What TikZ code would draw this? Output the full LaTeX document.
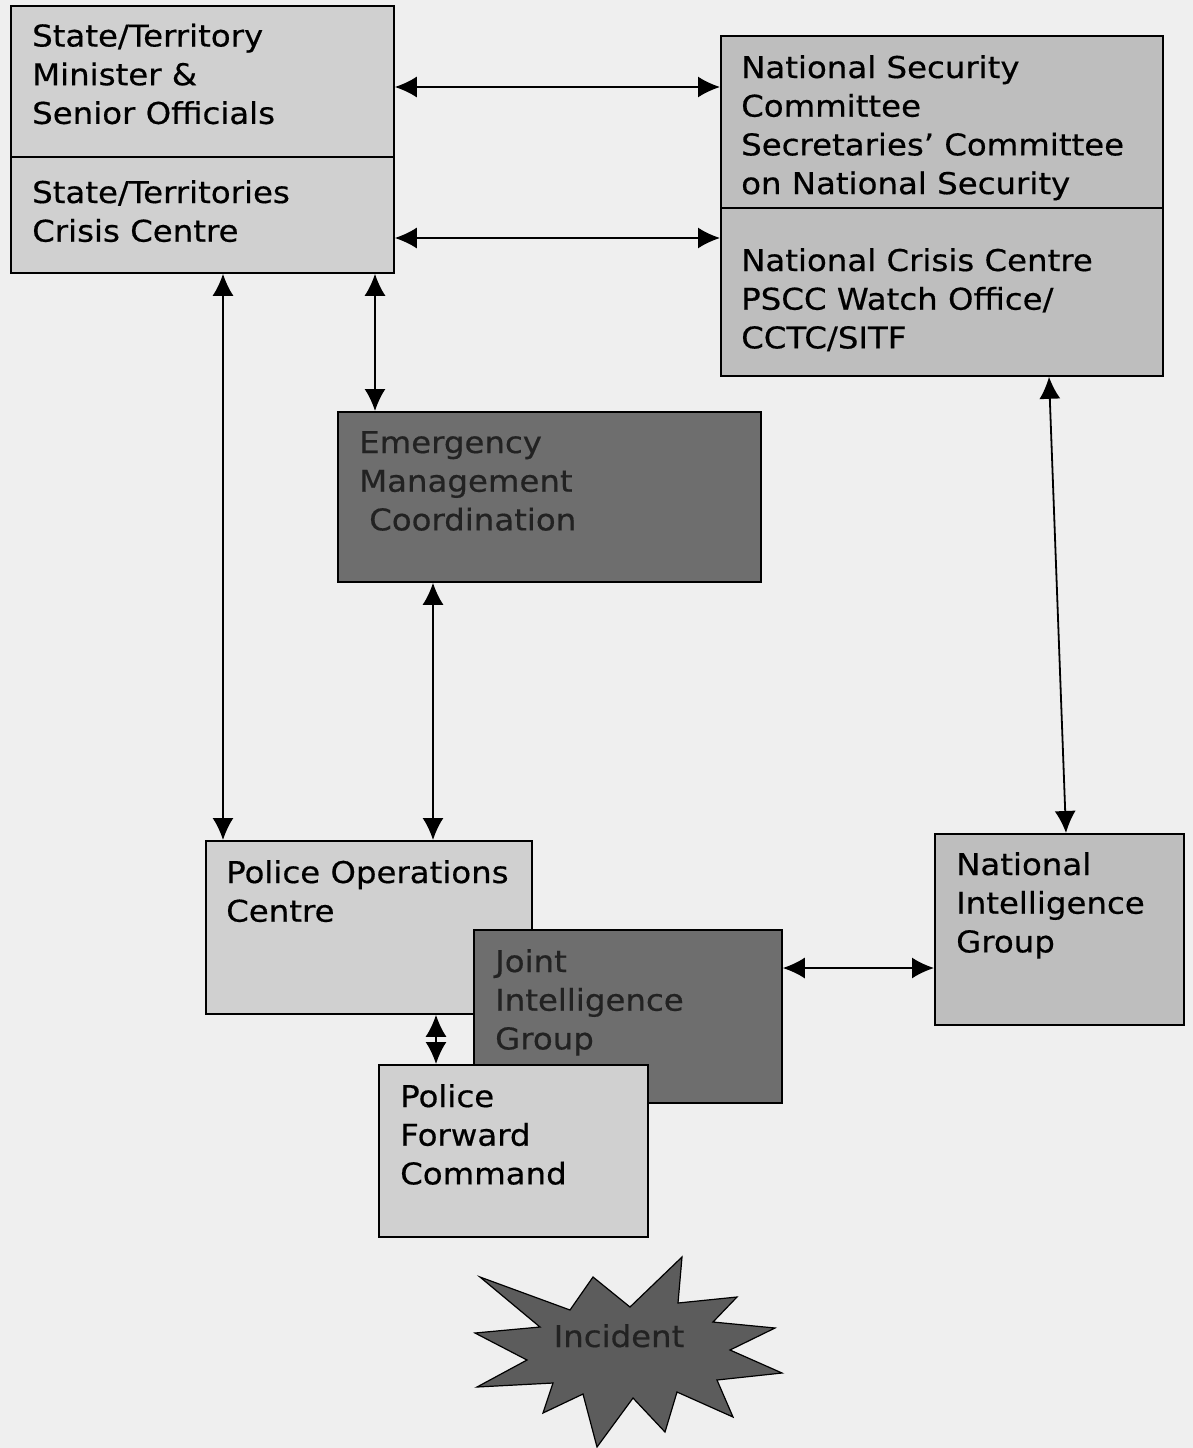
\documentclass[tikz,border=0pt]{standalone}
\usepackage{fontspec}
\setmainfont{DejaVu Sans}[FakeStretch=1.08,FakeBold=0.5]
\usetikzlibrary{arrows.meta,calc}
\definecolor{bgc}{HTML}{EFEFEF}
\definecolor{lightg}{HTML}{D0D0D0}
\definecolor{midg}{HTML}{BEBEBE}
\definecolor{darkg}{HTML}{6E6E6E}
\definecolor{starg}{HTML}{5C5C5C}
\definecolor{darktxt}{HTML}{222222}
\tikzset{
  box/.style={draw=black, line width=1.8pt, rectangle, inner sep=0pt, anchor=north west},
  lightbox/.style={box, fill=lightg},
  midbox/.style={box, fill=midg},
  darkbox/.style={box, fill=darkg},
  lbl/.style={anchor=base west, inner sep=0pt, font=\fontsize{30}{38.7}\selectfont},
  darklbl/.style={lbl, text=darktxt},
  arr/.style={{Latex[length=22pt,width=21pt]}-{Latex[length=22pt,width=21pt]}, line width=1.8pt}
}
\newcommand{\ltext}[1]{\parbox[t]{20cm}{\raggedright #1}}
\begin{document}
\begin{tikzpicture}[x=1pt,y=-1pt]
\fill[bgc] (0,0) rectangle (1193,1448);
\useasboundingbox (0,0) rectangle (1193,1448);

% boxes
\node[lightbox, minimum width=383pt, minimum height=151pt] (tl1) at (10,5) {};
\node[lightbox, minimum width=383pt, minimum height=116pt] (tl2) at (10,156) {};
\node[midbox, minimum width=442pt, minimum height=172pt] (ns1) at (720,35) {};
\node[midbox, minimum width=442pt, minimum height=168pt] (ns2) at (720,207) {};
\node[darkbox, minimum width=423pt, minimum height=170pt] (em) at (337,411) {};
\node[lightbox, minimum width=326pt, minimum height=173pt] (poc) at (205,840) {};
\node[darkbox, minimum width=308pt, minimum height=173pt] (jig) at (473,929) {};
\node[lightbox, minimum width=269pt, minimum height=172pt] (pfc) at (378,1064) {};
\node[midbox, minimum width=249pt, minimum height=191pt] (nig) at (934,833) {};

% texts
\node[lbl] (t1) at (32,46.5) {\ltext{State/Territory\\Minister \&\\Senior Officials}};
\node[lbl] (t2) at (32,203) {\ltext{State/Territories\\Crisis Centre}};
\node[lbl] (t3) at (741,78) {\ltext{National Security\\Committee\\Secretaries’ Committee\\on National Security}};
\node[lbl] (t4) at (741,271) {\ltext{National Crisis Centre\\PSCC Watch Office/\\CCTC/SITF}};
\node[darklbl] (t5) at (359,453) {\ltext{Emergency\\Management\\\hspace*{10pt}Coordination}};
\node[lbl] (t6) at (226,883) {\ltext{Police Operations\\Centre}};
\node[darklbl] (t7) at (495,972) {\ltext{Joint\\Intelligence\\Group}};
\node[lbl] (t8) at (400,1107) {\ltext{Police\\Forward\\Command}};
\node[lbl] (t9) at (956,875) {\ltext{National\\Intelligence\\Group}};

% starburst
\filldraw[fill=starg, draw=black, line width=1.2pt]
  (480,1277) -- (570,1310) -- (593,1277) -- (630,1307) -- (682,1257) -- (678,1303)
  -- (737,1297) -- (713,1322) -- (775,1328) -- (730,1350) -- (782,1373) -- (717,1380)
  -- (733,1417) -- (677,1392) -- (665,1432) -- (633,1398) -- (597,1447) -- (583,1394)
  -- (543,1413) -- (553,1383) -- (477,1387) -- (527,1360) -- (475,1333) -- (540,1327) -- cycle;
\node[anchor=base, inner sep=0pt, text=darktxt, font=\fontsize{30}{38.7}\selectfont] (inc) at (619,1347) {Incident};

% connectors
\draw[arr] (tl1.east |- 0,87) -- (ns1.west |- 0,87);
\draw[arr] (tl2.east |- 0,238) -- (ns2.west |- 0,238);
\draw[arr] (tl2.south -| 223,0) -- (poc.north -| 223,0);
\draw[arr] (tl2.south -| 375,0) -- (em.north -| 375,0);
\draw[arr] (em.south -| 433,0) -- (poc.north -| 433,0);
\draw[arr] (ns2.south -| 1049,0) -- (nig.north -| 1066,0);
\draw[arr] (jig.east |- 0,968) -- (nig.west |- 0,968);
\draw[arr] (poc.south -| 436,0) -- (pfc.north -| 436,0);
\end{tikzpicture}
\end{document}
